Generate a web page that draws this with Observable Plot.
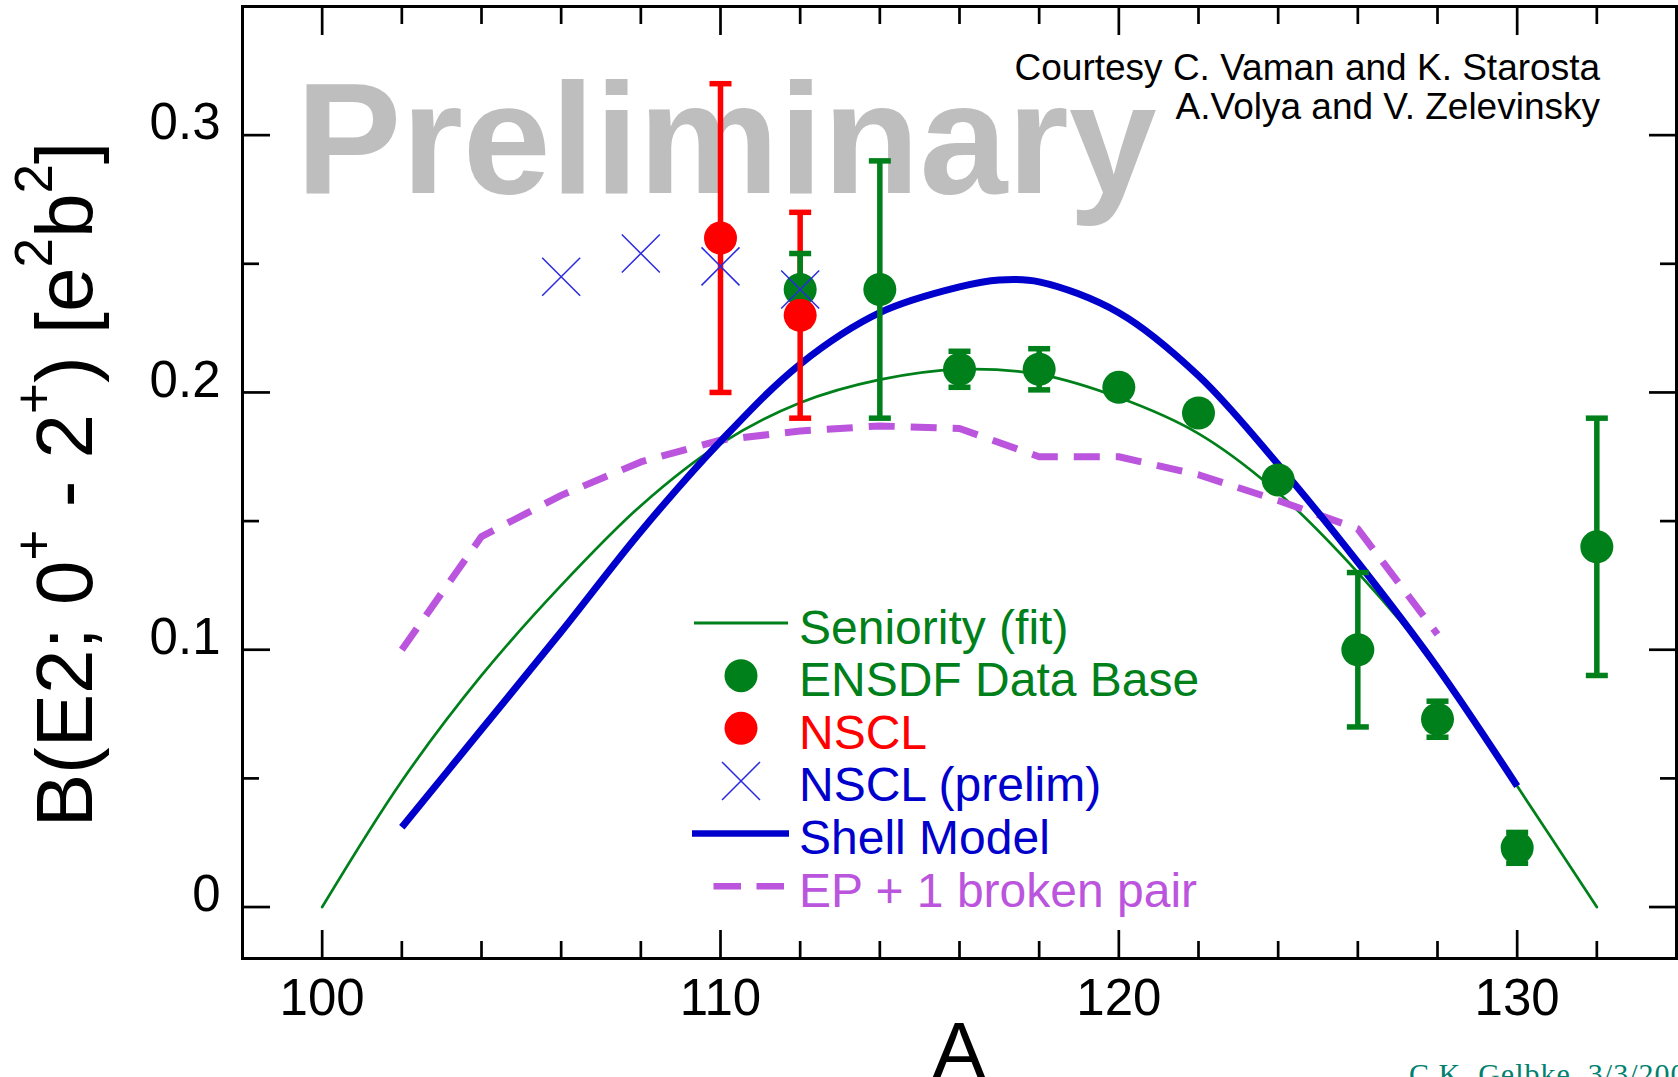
<!DOCTYPE html>
<html><head><meta charset="utf-8">
<script src="https://cdn.jsdelivr.net/npm/d3@7"></script>
<script src="https://cdn.jsdelivr.net/npm/@observablehq/plot@0.6"></script>
<style>
html,body{margin:0;padding:0;overflow:hidden;background:#fff;}
#chart{position:relative;width:1678px;height:1077px;}
</style></head><body><div id="chart"></div>
<script>
// ---- tick values ----
const xTicksMajor = [100, 110, 120, 130];
const xTicksMinor = [102, 104, 106, 108, 112, 114, 116, 118, 122, 124, 126, 128, 132];
const yTicksMajor = [0, 0.1, 0.2, 0.3];
const yTicksMinor = [0.05, 0.15, 0.25];

// ---- Seniority (fit) ----
const seniorityA = [100, 102, 104, 106, 108, 110, 112, 114, 116, 118, 120, 122, 124, 126, 128, 130, 132];
const seniorityB = [0, 0.049, 0.090, 0.125, 0.156, 0.180, 0.196, 0.205, 0.209, 0.207, 0.198, 0.184, 0.161, 0.130, 0.093, 0.047, 0];

// ---- Shell Model ----
const shellA = [102, 104, 106, 108, 110, 112, 114, 116, 117, 118, 120, 122, 124, 126, 128, 130];
const shellB = [0.031, 0.069, 0.107, 0.146, 0.181, 0.211, 0.231, 0.241, 0.2437, 0.243, 0.231, 0.2065, 0.172, 0.134, 0.093, 0.047];

// ---- EP + 1 broken pair ----
const epA = [102, 104, 106, 108, 110, 112, 114, 116, 118, 120, 122, 124, 126, 128];
const epB = [0.100, 0.144, 0.160, 0.173, 0.1815, 0.185, 0.187, 0.186, 0.175, 0.175, 0.168, 0.158, 0.147, 0.106];

// ---- ENSDF Data Base ----
const ensdfA = [112, 114, 116, 118, 120, 122, 124, 126, 128, 130, 132];
const ensdfB = [0.240, 0.240, 0.209, 0.209, 0.202, 0.192, 0.166, 0.100, 0.073, 0.023, 0.140];
const ensdfErr = [0.014, 0.050, 0.007, 0.008, 0, 0, 0, 0.030, 0.007, 0.006, 0.050];

// ---- NSCL ----
const nsclA = [110, 112];
const nsclB = [0.26, 0.23];
const nsclErr = [0.06, 0.04];

// ---- NSCL (prelim) ----
const prelimA = [106, 108, 110, 112];
const prelimB = [0.245, 0.254, 0.249, 0.240];

// ---- texts ----
const legendLabels = ["Seniority (fit)", "ENSDF Data Base", "NSCL", "NSCL (prelim)", "Shell Model", "EP + 1 broken pair"];
const courtesyLines = ["Courtesy C. Vaman and K. Starosta", "A.Volya and V. Zelevinsky"];
const watermark = "Preliminary";
const xLabel = "A";
const caption = "C.K. Gelbke, 3/3/2005";

// ---- colours ----
const GREEN = "#00801a", RED = "#ff0000", BLUE = "#0000cc", XBLUE = "#2a2ae0", PURPLE = "#bb55dd", GRAY = "#bebebe";
const FONT = "'Liberation Sans', Arial, Helvetica, sans-serif";

const zip = (a, b, e) => a.map((x, i) => ({A: x, B: b[i], E: e ? e[i] : 0}));
const seniority = zip(seniorityA, seniorityB);
const shell = zip(shellA, shellB);
const ep = zip(epA, epB);
const ensdf = zip(ensdfA, ensdfB, ensdfErr);
const nscl = zip(nsclA, nsclB, nsclErr);
const prelim = zip(prelimA, prelimB);
const ensdfE = ensdf.filter(d => d.E > 0);

const capSymbol = {draw(ctx, size) { const w = Math.sqrt(size / Math.PI); ctx.moveTo(-w, 0); ctx.lineTo(w, 0); }};
const xSymbol = {draw(ctx, size) { const h = Math.sqrt(size / Math.PI); ctx.moveTo(-h, -h); ctx.lineTo(h, h); ctx.moveTo(-h, h); ctx.lineTo(h, -h); }};

const TW = 2.7;
const tickAxes = [
  Plot.axisX(xTicksMajor, {anchor: "bottom", tickSize: 28, dy: -28, strokeWidth: TW, fill: "none", label: null}),
  Plot.axisX(xTicksMinor, {anchor: "bottom", tickSize: 17, dy: -17, strokeWidth: TW, fill: "none", label: null}),
  Plot.axisX(xTicksMajor, {anchor: "top", tickSize: 28, dy: 28, strokeWidth: TW, fill: "none", label: null}),
  Plot.axisX(xTicksMinor, {anchor: "top", tickSize: 17, dy: 17, strokeWidth: TW, fill: "none", label: null}),
  Plot.axisY(yTicksMajor, {anchor: "left", tickSize: 28, dx: 28, strokeWidth: TW, fill: "none", label: null}),
  Plot.axisY(yTicksMinor, {anchor: "left", tickSize: 17, dx: 17, strokeWidth: TW, fill: "none", label: null}),
  Plot.axisY(yTicksMajor, {anchor: "right", tickSize: 28, dx: -28, strokeWidth: TW, fill: "none", label: null}),
  Plot.axisY(yTicksMinor, {anchor: "right", tickSize: 17, dx: -17, strokeWidth: TW, fill: "none", label: null}),
  Plot.axisX(xTicksMajor, {anchor: "bottom", tickSize: 0, tickPadding: 20, fontSize: 51, fill: "black", label: null, tickFormat: d => String(d)}),
  Plot.axisY(yTicksMajor, {anchor: "left", tickSize: 0, tickPadding: 22, dy: -12, fontSize: 51, fill: "black", label: null, tickFormat: d => String(d)})
];

const plot = Plot.plot({
  width: 1678, height: 1077,
  marginLeft: 242, marginRight: 2, marginTop: 6, marginBottom: 119,
  style: {fontFamily: FONT, fontSize: "51px", background: "white", color: "black", overflow: "visible"},
  x: {domain: [98, 134]},
  y: {domain: [-0.02, 0.35]},
  marks: [
    ...tickAxes,
    Plot.frame({stroke: "black", strokeWidth: 3}),
    // curves
    Plot.line(seniority, {x: "A", y: "B", stroke: GREEN, strokeWidth: 2.7, curve: "catmull-rom"}),
    Plot.line(ep, {x: "A", y: "B", stroke: PURPLE, strokeWidth: 7, strokeDasharray: "26,16", strokeLinecap: "butt", strokeLinejoin: "round", curve: "linear"}),
    Plot.line(shell, {x: "A", y: "B", stroke: BLUE, strokeWidth: 7, curve: "catmull-rom", strokeLinecap: "butt"}),
    // NSCL error bars
    Plot.ruleX(nscl, {x: "A", y1: d => d.B - d.E, y2: d => d.B + d.E, stroke: RED, strokeWidth: 5.5}),
    Plot.dot(nscl, {x: "A", y: d => d.B + d.E, symbol: capSymbol, r: 11, stroke: RED, strokeWidth: 5.5, fill: "none", strokeLinecap: "butt"}),
    Plot.dot(nscl, {x: "A", y: d => d.B - d.E, symbol: capSymbol, r: 11, stroke: RED, strokeWidth: 5.5, fill: "none", strokeLinecap: "butt"}),
    // ENSDF error bars
    Plot.ruleX(ensdfE, {x: "A", y1: d => d.B - d.E, y2: d => d.B + d.E, stroke: GREEN, strokeWidth: 5.5}),
    Plot.dot(ensdfE, {x: "A", y: d => d.B + d.E, symbol: capSymbol, r: 11, stroke: GREEN, strokeWidth: 5.5, fill: "none", strokeLinecap: "butt"}),
    Plot.dot(ensdfE, {x: "A", y: d => d.B - d.E, symbol: capSymbol, r: 11, stroke: GREEN, strokeWidth: 5.5, fill: "none", strokeLinecap: "butt"}),
    // points
    Plot.dot(ensdf, {x: "A", y: "B", r: 16.5, fill: GREEN, stroke: "none"}),
    Plot.dot(nscl, {x: "A", y: "B", r: 16.5, fill: RED, stroke: "none"}),
    Plot.dot(prelim, {x: "A", y: "B", symbol: xSymbol, r: 19, stroke: XBLUE, strokeWidth: 1.5, fill: "none"})
  ]
});
document.getElementById("chart").appendChild(plot);

const svg = d3.select(plot);
// watermark behind data
svg.insert("text", function() { return this.querySelector(":scope > :not(style)"); })
  .attr("x", 296).attr("y", 193).attr("text-anchor", "start")
  .attr("font-family", FONT).attr("font-weight", "bold").attr("font-size", 158)
  .attr("fill", GRAY).text(watermark);

// courtesy text
courtesyLines.forEach((t, i) => {
  svg.append("text").attr("x", 1600).attr("y", 80 + i * 39)
    .attr("text-anchor", "end").attr("font-family", FONT).attr("font-size", 37)
    .attr("fill", "black").text(t);
});

// y axis label with superscripts
const yl = svg.append("text")
  .attr("transform", "translate(92,484.5) rotate(-90)")
  .attr("text-anchor", "middle").attr("font-family", FONT).attr("font-size", 80).attr("fill", "black");
const parts = [["B(E2; 0", 0], ["+", 1], [" - 2", 0], ["+", 1], [") [e", 0], ["2", 1], ["b", 0], ["2", 1], ["]", 0]];
let raised = false;
parts.forEach(([t, sup]) => {
  const ts = yl.append("tspan").text(t);
  if (sup) { ts.attr("font-size", 53); if (!raised) { ts.attr("dy", -40); raised = true; } }
  else { if (raised) { ts.attr("dy", 40); raised = false; } }
});

// x axis label
svg.append("text").attr("x", 959).attr("y", 1078).attr("text-anchor", "middle")
  .attr("font-family", FONT).attr("font-size", 80).attr("fill", "black").text(xLabel);

// caption
svg.append("text").attr("x", 1409).attr("y", 1084).attr("text-anchor", "start")
  .attr("font-family", "'Liberation Serif', 'Times New Roman', serif").attr("font-size", 30)
  .attr("letter-spacing", 1).attr("fill", "#008070").text(caption);

// legend
const lg = svg.append("g").attr("text-anchor", "start");
const legendColors = [GREEN, GREEN, RED, BLUE, BLUE, PURPLE];
legendLabels.forEach((lab, i) => {
  const by = 643.5 + i * 52.65;
  const cy = by - 20.5;
  if (i === 0) lg.append("line").attr("x1", 694).attr("x2", 788).attr("y1", cy).attr("y2", cy).attr("stroke", GREEN).attr("stroke-width", 2.8);
  if (i === 1) lg.append("circle").attr("cx", 741).attr("cy", cy).attr("r", 16.5).attr("fill", GREEN);
  if (i === 2) lg.append("circle").attr("cx", 741).attr("cy", cy).attr("r", 16.5).attr("fill", RED);
  if (i === 3) lg.append("path").attr("d", `M${741-19},${cy-19}L${741+19},${cy+19}M${741-19},${cy+19}L${741+19},${cy-19}`).attr("stroke", XBLUE).attr("stroke-width", 1.5).attr("fill", "none");
  if (i === 4) lg.append("line").attr("x1", 692).attr("x2", 789).attr("y1", cy).attr("y2", cy).attr("stroke", BLUE).attr("stroke-width", 6.5);
  if (i === 5) lg.append("line").attr("x1", 713.5).attr("x2", 784).attr("y1", cy).attr("y2", cy).attr("stroke", PURPLE).attr("stroke-width", 6.5).attr("stroke-dasharray", "27.5,15.5");
  lg.append("text").attr("x", 799).attr("y", by).attr("text-anchor", "start").attr("font-family", FONT).attr("font-size", 48)
    .attr("fill", legendColors[i]).text(lab);
});
</script></body></html>
